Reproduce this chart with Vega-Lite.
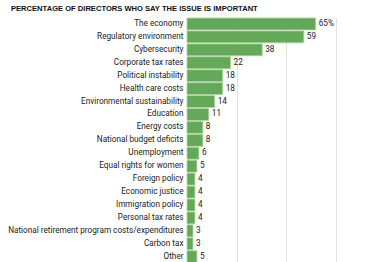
{
  "$schema": "https://vega.github.io/schema/vega-lite/v6.json",
  "width": 198,
  "height": 245.7,
  "autosize": {"type": "none"},
  "padding": {"left": 187, "top": 17.5, "right": 0, "bottom": 0},
  "title": {
    "text": "PERCENTAGE OF DIRECTORS WHO SAY THE ISSUE IS IMPORTANT",
    "anchor": "start",
    "frame": "group",
    "dx": -176,
    "offset": 5,
    "font": "Liberation Sans",
    "fontSize": 7.6,
    "fontWeight": "bold",
    "color": "#111"
  },
  "data": {
    "values": [
      {"issue": "The economy", "pct": 65, "label": "65%"},
      {"issue": "Regulatory environment", "pct": 59, "label": "59"},
      {"issue": "Cybersecurity", "pct": 38, "label": "38"},
      {"issue": "Corporate tax rates", "pct": 22, "label": "22"},
      {"issue": "Political instability", "pct": 18, "label": "18"},
      {"issue": "Health care costs", "pct": 18, "label": "18"},
      {"issue": "Environmental sustainability", "pct": 14, "label": "14"},
      {"issue": "Education", "pct": 11, "label": "11"},
      {"issue": "Energy costs", "pct": 8, "label": "8"},
      {"issue": "National budget deficits", "pct": 8, "label": "8"},
      {"issue": "Unemployment", "pct": 6, "label": "6"},
      {"issue": "Equal rights for women", "pct": 5, "label": "5"},
      {"issue": "Foreign policy", "pct": 4, "label": "4"},
      {"issue": "Economic justice", "pct": 4, "label": "4"},
      {"issue": "Immigration policy", "pct": 4, "label": "4"},
      {"issue": "Personal tax rates", "pct": 4, "label": "4"},
      {"issue": "National retirement program costs/expenditures", "pct": 3, "label": "3"},
      {"issue": "Carbon tax", "pct": 3, "label": "3"},
      {"issue": "Other", "pct": 5, "label": "5"}
    ]
  },
  "encoding": {
    "y": {
      "field": "issue",
      "type": "nominal",
      "sort": null,
      "scale": {"paddingInner": 0.08, "paddingOuter": 0.04},
      "axis": {
        "title": null,
        "ticks": false,
        "domain": false,
        "labelPadding": 4,
        "labelFont": "Roboto",
        "labelFontSize": 8.2,
        "labelColor": "#222",
        "labelLimit": 200
      }
    },
    "x": {
      "field": "pct",
      "type": "quantitative",
      "scale": {"domain": [0, 100]},
      "axis": {
        "title": null,
        "values": [25, 50, 75, 100],
        "labels": false,
        "ticks": false,
        "domain": false,
        "grid": true,
        "gridColor": "#e2e2e2",
        "gridWidth": 1
      }
    }
  },
  "layer": [
    {
      "mark": {"type": "bar", "color": "#66a85a", "stroke": "#a9d49d", "strokeWidth": 0.8}
    },
    {
      "mark": {"type": "text", "align": "left", "dx": 3, "font": "Roboto", "fontSize": 8.2, "color": "#222"},
      "encoding": {"text": {"field": "label"}}
    }
  ],
  "config": {"view": {"stroke": null}}
}
